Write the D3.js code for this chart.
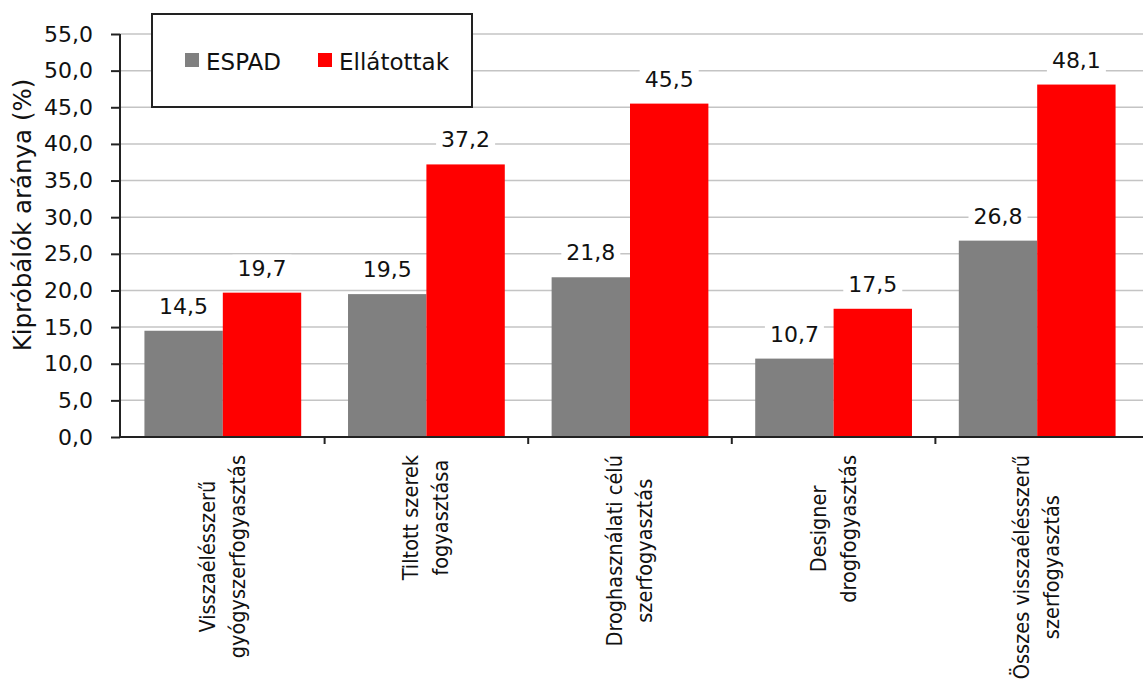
<!DOCTYPE html>
<html>
<head>
<meta charset="utf-8">
<script src="https://cdn.jsdelivr.net/npm/d3@7"></script>
<style>
  html, body { margin: 0; padding: 0; background: #fff; }
  svg { display: block; font-family: "DejaVu Sans", sans-serif; }
</style>
</head>
<body>
<svg id="chart" width="1143" height="679"></svg>
<script>
// Categories (each split into display lines)
const categories = [
  ["Visszaélésszerű", "gyógyszerfogyasztás"],
  ["Tiltott  szerek", "fogyasztása"],
  ["Droghasználati célú", "szerfogyasztás"],
  ["Designer", "drogfogyasztás"],
  ["Összes visszaélésszerű", "szerfogyasztás"]
];
const seriesNames = ["ESPAD", "Ellátottak"];
const espad = [14.5, 19.5, 21.8, 10.7, 26.8];
const ellatottak = [19.7, 37.2, 45.5, 17.5, 48.1];
const yTicks = [0, 5, 10, 15, 20, 25, 30, 35, 40, 45, 50, 55];
const colors = ["#808080", "#ff0000"];

const svg = d3.select("#chart");
const plotLeft = 120, plotRight = 1140, plotTop = 34, plotBottom = 437;

const fmt = v => d3.format(".1f")(v).replace(".", ",");

const x = d3.scaleBand().domain(d3.range(categories.length))
  .range([plotLeft, plotRight]).paddingInner(0.23).paddingOuter(0.12);
const xs = d3.scaleBand().domain(d3.range(seriesNames.length))
  .range([0, x.bandwidth()]);
const y = d3.scaleLinear().domain([0, 55]).range([plotBottom, plotTop]);

// Gridlines
svg.append("g").selectAll("line").data(yTicks.filter(d => d > 0)).join("line")
  .attr("x1", plotLeft).attr("x2", 1143)
  .attr("y1", d => y(d)).attr("y2", d => y(d))
  .attr("stroke", "#c4c4c4").attr("stroke-width", 1.5);

// Bars
const series = [espad, ellatottak];
const groups = svg.append("g").selectAll("g").data(d3.range(categories.length)).join("g")
  .attr("transform", i => `translate(${x(i)},0)`);
groups.selectAll("rect").data(i => series.map((s, k) => ({ k, v: s[i] }))).join("rect")
  .attr("x", d => xs(d.k)).attr("width", xs.bandwidth())
  .attr("y", d => y(d.v)).attr("height", d => y(0) - y(d.v))
  .attr("fill", d => colors[d.k]);

// Value labels with white backing
const labels = groups.selectAll("g.lbl").data(i => series.map((s, k) => ({ k, v: s[i] }))).join("g")
  .attr("class", "lbl");
labels.each(function(d) {
  const g = d3.select(this);
  const cx = xs(d.k) + xs.bandwidth() / 2;
  const t = g.append("text")
    .attr("x", cx).attr("y", y(d.v) - 17)
    .attr("text-anchor", "middle")
    .attr("font-size", 22).attr("fill", "#111")
    .text(fmt(d.v));
  const bb = t.node().getBBox();
  g.insert("rect", "text")
    .attr("x", bb.x - 5).attr("y", bb.y - 1)
    .attr("width", bb.width + 10).attr("height", bb.height + 2)
    .attr("fill", "#fff");
});

// Y axis
const yAxis = d3.axisLeft(y).tickValues(yTicks).tickFormat(fmt).tickSize(9).tickPadding(18);
const yg = svg.append("g").attr("transform", `translate(${plotLeft},0)`).call(yAxis);
yg.select(".domain").attr("stroke", "#222").attr("stroke-width", 2).attr("d", `M0,${plotTop}V${plotBottom}`);
yg.selectAll(".tick line").attr("stroke", "#222").attr("stroke-width", 2);
yg.selectAll(".tick text").attr("font-size", 22).attr("fill", "#111")
  .attr("font-family", "DejaVu Sans, sans-serif");

// X axis line and category separators
svg.append("line").attr("x1", plotLeft).attr("x2", 1143).attr("y1", plotBottom).attr("y2", plotBottom)
  .attr("stroke", "#222").attr("stroke-width", 2);
const step = x.step();
const seps = d3.range(1, categories.length).map(i => x(i) - step * x.paddingInner() / 2);
svg.append("g").selectAll("line").data(seps).join("line")
  .attr("x1", d => d).attr("x2", d => d)
  .attr("y1", plotBottom).attr("y2", plotBottom + 7)
  .attr("stroke", "#222").attr("stroke-width", 2);

// Category labels, rotated, lines centred in a block hanging from the axis
categories.forEach((lines, i) => {
  const cx = x(i) + x.bandwidth() / 2;
  const t = svg.append("text")
    .attr("font-family", "DejaVu Sans Condensed, DejaVu Sans, sans-serif")
    .attr("font-size", 21.5).attr("fill", "#111").attr("text-anchor", "middle");
  lines.forEach((ln, j) => {
    t.append("tspan").attr("x", 0).attr("y", (j - (lines.length - 1) / 2) * 30 + 7).text(ln);
  });
  let maxLen = 0;
  t.selectAll("tspan").each(function() { maxLen = Math.max(maxLen, this.getComputedTextLength()); });
  t.attr("transform", `translate(${cx},${455 + maxLen / 2}) rotate(-90)`);
});

// Y axis title
svg.append("text")
  .attr("transform", `translate(31,215) rotate(-90)`)
  .attr("text-anchor", "middle").attr("font-size", 24.5).attr("fill", "#111")
  .text("Kipróbálók  aránya (%)");

// Legend
const lg = svg.append("g");
lg.append("rect").attr("x", 152).attr("y", 14).attr("width", 320).attr("height", 93)
  .attr("fill", "#fff").attr("stroke", "#222").attr("stroke-width", 2);
const legendX = [185, 318];
seriesNames.forEach((name, k) => {
  lg.append("rect").attr("x", legendX[k]).attr("y", 53).attr("width", 14).attr("height", 14)
    .attr("fill", colors[k]);
  lg.append("text").attr("x", legendX[k] + 21).attr("y", 70)
    .attr("font-size", 23).attr("fill", "#111").text(name);
});
</script>
</body>
</html>
